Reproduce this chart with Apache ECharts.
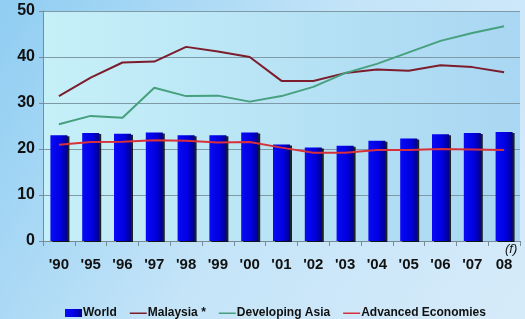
<!DOCTYPE html>
<html>
<head>
<meta charset="utf-8">
<script src="https://cdn.jsdelivr.net/npm/echarts@6/dist/echarts.min.js"></script>
<style>
  html, body { margin: 0; padding: 0; }
  #chart { width: 525px; height: 319px; }
</style>
</head>
<body>
<div id="chart"></div>
<script>
let years = ["'90", "'95", "'96", "'97", "'98", "'99", "'00", "'01", "'02", "'03", "'04", "'05", "'06", "'07", "08"]
let world = [23, 23.5, 23.3, 23.6, 23, 23, 23.6, 21, 20.3, 20.7, 21.8, 22.3, 23.2, 23.5, 23.7]
let malaysia = [31.5, 35.5, 38.8, 39, 42.2, 41.2, 40, 34.8, 34.8, 36.5, 37.3, 37, 38.2, 37.8, 36.7]
let devAsia = [25.4, 27.2, 26.8, 33.3, 31.5, 31.6, 30.3, 31.5, 33.5, 36.5, 38.5, 41, 43.5, 45.2, 46.7]
let advanced = [20.9, 21.5, 21.6, 21.9, 21.8, 21.4, 21.5, 20.3, 19.2, 19.2, 19.8, 19.8, 20, 19.9, 19.8]

let font = 'Liberation Sans'
// thin line icon inside an 17x8 box
let lineIcon = 'path://M0,0h17v0.01h-17zM0,3.5h17v1.5h-17zM0,8h17v0.01h-17z'

let chart = echarts.init(document.getElementById('chart'))
chart.setOption({
    animation: false,
    backgroundColor: {
        type: 'linear', x: 0, y: 0, x2: 1, y2: 1,
        colorStops: [{offset: 0, color: '#8fcdf2'}, {offset: 0.5, color: '#c4e4f8'}, {offset: 1, color: '#d6ebfa'}]
    },
    grid: {
        left: 43, right: 5, top: 11, bottom: 78,
        show: true,
        borderWidth: 0,
        backgroundColor: {
            type: 'linear', x: 0, y: 0, x2: 1, y2: 0,
            colorStops: [{offset: 0, color: '#c6f0f8'}, {offset: 1, color: '#a9d6f2'}]
        }
    },
    legend: {
        top: 302,
        left: 60,
        itemWidth: 17,
        itemHeight: 8,
        itemGap: 13,
        textStyle: {fontFamily: font, fontWeight: 'bold', fontSize: 12, color: '#111', padding: [0, 0, 0, -4]},
        data: [
            {name: 'World', icon: 'rect'},
            {name: 'Malaysia *', icon: lineIcon},
            {name: 'Developing Asia', icon: lineIcon},
            {name: 'Advanced Economies', icon: lineIcon}
        ]
    },
    xAxis: {
        type: 'category',
        data: years,
        axisLine: {lineStyle: {color: '#7a8a96'}},
        axisTick: {show: true, length: 5, lineStyle: {color: '#7a8a96'}},
        axisLabel: {fontFamily: font, fontWeight: 'bold', fontSize: 15, color: '#111', margin: 16}
    },
    yAxis: {
        type: 'value',
        min: 0, max: 50, interval: 10,
        axisLine: {show: true, lineStyle: {color: '#7a8a96'}},
        axisTick: {show: true, length: 4, lineStyle: {color: '#7a8a96'}},
        axisLabel: {fontFamily: font, fontWeight: 'bold', fontSize: 16, color: '#111', margin: 8},
        splitLine: {lineStyle: {color: '#7d9aa6'}}
    },
    graphic: [{
        type: 'text', left: 505, top: 243,
        style: {text: '(f)', fontFamily: font, fontStyle: 'italic', fontSize: 13, fill: '#111'}
    }],
    series: [
        {
            name: 'World', type: 'bar', data: world, barWidth: 17,
            itemStyle: {
                color: {
                    type: 'linear', x: 0, y: 0, x2: 1, y2: 0,
                    colorStops: [{offset: 0, color: '#0a0af5'}, {offset: 0.6, color: '#0000e0'}, {offset: 1, color: '#00008a'}]
                },
                shadowColor: 'rgba(0,0,0,0.85)', shadowOffsetX: 2, shadowOffsetY: 1, shadowBlur: 0
            }
        },
        {name: 'Malaysia *', type: 'line', data: malaysia, symbol: 'none', lineStyle: {color: '#7c1c2c', width: 2}, itemStyle: {color: '#7c1c2c'}},
        {name: 'Developing Asia', type: 'line', data: devAsia, symbol: 'none', lineStyle: {color: '#46a07e', width: 2}, itemStyle: {color: '#46a07e'}},
        {name: 'Advanced Economies', type: 'line', data: advanced, symbol: 'none', lineStyle: {color: '#d8303a', width: 2}, itemStyle: {color: '#d8303a'}}
    ]
})
</script>
</body>
</html>
